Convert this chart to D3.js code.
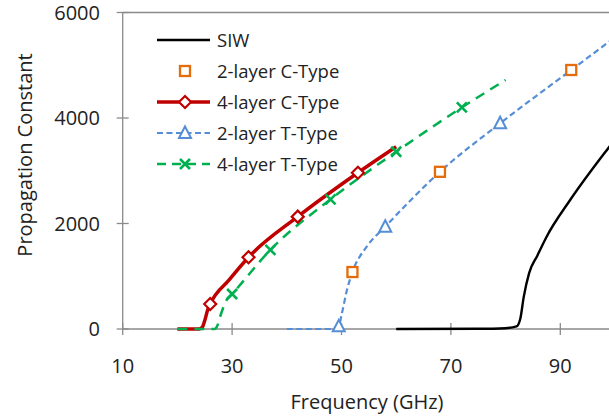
<!DOCTYPE html>
<html>
<head>
<meta charset="utf-8">
<script src="https://cdn.jsdelivr.net/npm/d3@7"></script>
<style>
  body { margin: 0; background: #fff; }
  svg text { font-family: "Open Sans", sans-serif; fill: #222; }
  .tick-label { font-size: 20px; }
  .axis-title { font-size: 20px; }
  .legend { font-size: 18.5px; }
</style>
</head>
<body>
<div id="chart"></div>
<script>
const width = 609;
const height = 418;

// axis ticks
const xTicks = [10, 30, 50, 70, 90];
const yTicks = [0, 2000, 4000, 6000];

// SIW (line only)
const siwLine = [[60,0],[75,4],[80,15],[82,50],[82.7,200],[83.3,600],[84.3,1060],[85.8,1390],[87.5,1750],[91.8,2445],[99,3460],[105,4250]];

// 2-layer C-Type (markers only)
const c2Markers = [[52,1080],[68,2980],[92,4910]];

// 4-layer C-Type
const c4Line = [[20,0],[24,0],[24.6,40],[25,160],[25.5,350],[26,474],[29.5,935],[33,1360],[42,2130],[53,2963],[60,3456]];
const c4Markers = [[26,474],[33,1360],[42,2130],[53,2963]];

// 2-layer T-Type
const t2Line = [[40,0],[48.5,0],[49.5,50],[50,260],[51,740],[52,1080],[54.6,1560],[58,1940],[68,2980],[79,3900],[92,4910],[100,5530],[106,6000]];
const t2Markers = [[49.5,50],[58,1940],[79,3900]];

// 4-layer T-Type
const t4Line = [[20,0],[26.8,0],[27.3,60],[27.8,230],[29,550],[30,663],[37,1500],[48,2458],[60,3360],[72,4200],[80,4720]];
const t4Markers = [[30,663],[37,1500],[48,2458],[60,3360],[72,4200]];

const legendNames = ["SIW", "2-layer C-Type", "4-layer C-Type", "2-layer T-Type", "4-layer T-Type"];

const svg = d3.select("#chart").append("svg")
   .attr("width", width)
   .attr("height", height);

const plotLeft = 122.7, plotTop = 12.5, plotBottom = 329;

const x = d3.scaleLinear()
   .domain([10, 110])
   .range([plotLeft, plotLeft + 100*5.47]);

const y = d3.scaleLinear()
   .domain([0, 6000])
   .range([plotBottom, plotTop]);

const axisColor = "#8a8a8a";

// top border + axes lines
svg.append("line")
   .attr("x1", plotLeft).attr("x2", width)
   .attr("y1", y(6000)).attr("y2", y(6000))
   .attr("stroke", axisColor).attr("stroke-width", 1.3);
svg.append("line")
   .attr("x1", plotLeft).attr("x2", width)
   .attr("y1", y(0)).attr("y2", y(0))
   .attr("stroke", axisColor).attr("stroke-width", 1.3);
svg.append("line")
   .attr("x1", plotLeft).attr("x2", plotLeft)
   .attr("y1", y(6000)).attr("y2", y(0))
   .attr("stroke", axisColor).attr("stroke-width", 1.3);

// x ticks (cross)
xTicks.forEach(t => {
   svg.append("line")
      .attr("x1", x(t)).attr("x2", x(t))
      .attr("y1", y(0)-6).attr("y2", y(0)+6)
      .attr("stroke", axisColor).attr("stroke-width", 1.3);
   svg.append("text")
      .attr("class", "tick-label")
      .attr("x", x(t)).attr("y", 373)
      .attr("text-anchor", "middle")
      .text(t);
});

// y ticks (cross)
yTicks.forEach(t => {
   svg.append("line")
      .attr("x1", plotLeft-6).attr("x2", plotLeft+6)
      .attr("y1", y(t)).attr("y2", y(t))
      .attr("stroke", axisColor).attr("stroke-width", 1.3);
   svg.append("text")
      .attr("class", "tick-label")
      .attr("x", 100).attr("y", y(t)+7)
      .attr("text-anchor", "end")
      .text(t);
});

// axis titles
svg.append("text")
   .attr("class", "axis-title")
   .attr("x", 367).attr("y", 409)
   .attr("text-anchor", "middle")
   .text("Frequency (GHz)");
svg.append("text")
   .attr("class", "axis-title")
   .attr("transform", "translate(32,155) rotate(-90)")
   .attr("text-anchor", "middle")
   .text("Propagation Constant");

const line = d3.line()
   .x(d => x(d[0]))
   .y(d => y(d[1]))
   .curve(d3.curveMonotoneX);

const colors = {
   siw: "#000000",
   c2: "#E46C0A",
   c4: "#C00000",
   t2: "#558ED5",
   t4: "#00B050"
};

// markers
function drawMarker(g, kind, cx, cy) {
   if (kind === "square") {
      g.append("rect")
         .attr("x", cx-5).attr("y", cy-5)
         .attr("width", 10).attr("height", 10)
         .attr("fill", "#fff").attr("stroke", colors.c2).attr("stroke-width", 2.3);
   } else if (kind === "diamond") {
      g.append("path")
         .attr("d", `M${cx},${cy-6}L${cx+6},${cy}L${cx},${cy+6}L${cx-6},${cy}Z`)
         .attr("fill", "#fff").attr("stroke", colors.c4).attr("stroke-width", 2.2);
   } else if (kind === "triangle") {
      g.append("path")
         .attr("d", `M${cx},${cy-6.5}L${cx+6},${cy+5}L${cx-6},${cy+5}Z`)
         .attr("fill", "#fff").attr("stroke", colors.t2).attr("stroke-width", 2);
   } else if (kind === "x") {
      g.append("path")
         .attr("d", `M${cx-5},${cy-5}L${cx+5},${cy+5}M${cx-5},${cy+5}L${cx+5},${cy-5}`)
         .attr("stroke", colors.t4).attr("stroke-width", 2.6);
   }
}

const plot = svg.append("g");

// SIW
plot.append("path")
   .attr("d", line(siwLine))
   .attr("fill", "none").attr("stroke", colors.siw).attr("stroke-width", 2.4);

// 2-layer T-Type
plot.append("path")
   .attr("d", line(t2Line))
   .attr("fill", "none").attr("stroke", colors.t2).attr("stroke-width", 2.2)
   .attr("stroke-dasharray", "6,3.5");

// 4-layer C-Type
plot.append("path")
   .attr("d", line(c4Line))
   .attr("fill", "none").attr("stroke", colors.c4).attr("stroke-width", 3.5);

// 4-layer T-Type
plot.append("path")
   .attr("d", line(t4Line))
   .attr("fill", "none").attr("stroke", colors.t4).attr("stroke-width", 2.5)
   .attr("stroke-dasharray", "10,7");

t2Markers.forEach(d => drawMarker(plot, "triangle", x(d[0]), y(d[1])));
c4Markers.forEach(d => drawMarker(plot, "diamond", x(d[0]), y(d[1])));
t4Markers.forEach(d => drawMarker(plot, "x", x(d[0]), y(d[1])));
c2Markers.forEach(d => drawMarker(plot, "square", x(d[0]), y(d[1])));

// legend
const legX1 = 157, legX2 = 210, legMid = 185, legText = 217;
const legY0 = 40, legStep = 31;
const legend = svg.append("g");
const legStyles = [
   {color: colors.siw, width: 2.4, dash: null, marker: null, line: true},
   {color: colors.c2, width: 0, dash: null, marker: "square", line: false},
   {color: colors.c4, width: 3.5, dash: null, marker: "diamond", line: true},
   {color: colors.t2, width: 2.2, dash: "6,3.5", marker: "triangle", line: true},
   {color: colors.t4, width: 2.5, dash: "9,6", marker: "x", line: true}
];
legendNames.forEach((name, i) => {
   const ly = legY0 + i*legStep;
   const s = legStyles[i];
   if (s.line) {
      legend.append("line")
         .attr("x1", legX1).attr("x2", legX2)
         .attr("y1", ly).attr("y2", ly)
         .attr("stroke", s.color).attr("stroke-width", s.width)
         .attr("stroke-dasharray", s.dash);
   }
   if (s.marker) drawMarker(legend, s.marker, legMid, ly);
   legend.append("text")
      .attr("class", "legend")
      .attr("x", legText).attr("y", ly+7)
      .text(name);
});
</script>
</body>
</html>
